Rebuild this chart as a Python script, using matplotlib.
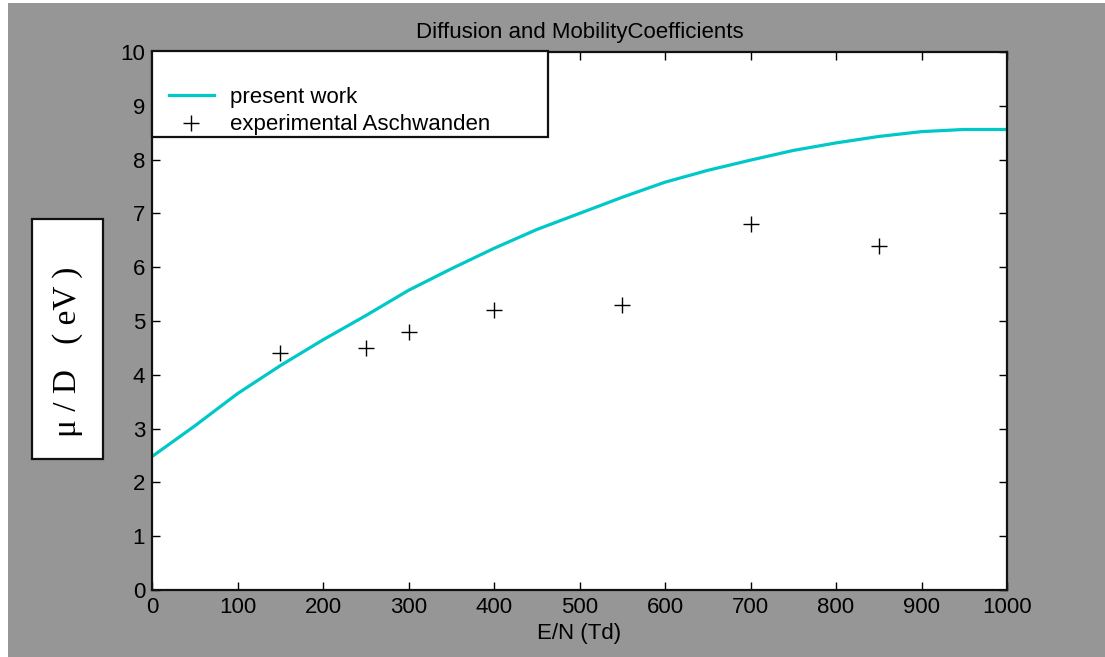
import matplotlib
matplotlib.use("Agg")
import matplotlib.pyplot as plt
from matplotlib.patches import Rectangle
import numpy as np

# present work curve
en_model = [0, 50, 100, 150, 200, 250, 300, 350, 400, 450, 500,
            550, 600, 650, 700, 750, 800, 850, 900, 950, 1000]
mu_d_model = [2.48, 3.05, 3.65, 4.17, 4.65, 5.10, 5.57, 5.97, 6.35, 6.70, 7.00,
              7.30, 7.58, 7.80, 7.99, 8.17, 8.31, 8.43, 8.52, 8.56, 8.56]

# experimental Aschwanden
en_exp = [150, 250, 300, 400, 550, 700, 850]
mu_d_exp = [4.4, 4.5, 4.8, 5.2, 5.3, 6.8, 6.4]

W, H = 1105, 657
grey = "#969696"
cyan = "#00c8c8"

plt.rcParams["font.family"] = ["Liberation Sans", "DejaVu Sans"]

fig = plt.figure(figsize=(W / 100, H / 100), dpi=100, facecolor="white")
fig.patches.append(Rectangle((8 / W, 0), 1 - 8 / W, 1 - 3 / H,
                             transform=fig.transFigure, facecolor=grey,
                             edgecolor="none", zorder=-10))

ax = fig.add_axes([152 / W, 1 - 590 / H, (1007 - 152) / W, (590 - 52) / H])
ax.set_facecolor("white")

ax.plot(en_model, mu_d_model, color=cyan, lw=2.3, label="present work")
ax.plot(en_exp, mu_d_exp, ls="none", marker="+", ms=11.5, mew=1.0,
        color="black", label="experimental Aschwanden")

ax.set_xlim(0, 1000)
ax.set_ylim(0, 10)
ax.set_xticks(np.arange(0, 1001, 100))
ax.set_yticks(np.arange(0, 11, 1))
ax.tick_params(direction="in", length=6, width=1, top=True, right=True,
               labelsize=16, pad=5, colors="black")
for s in ax.spines.values():
    s.set_linewidth(1.6)
    s.set_color("#111111")

ax.set_title("Diffusion and MobilityCoefficients", fontsize=16, pad=10)
ax.set_xlabel("E/N (Td)", fontsize=16, labelpad=4)

# legend with its own frame
ax.add_patch(Rectangle((0, (590 - 137) / 538), (548 - 152) / 855, (137 - 52) / 538 + 0.001,
                       transform=ax.transAxes, facecolor="white",
                       edgecolor="#111111", lw=1.6, zorder=5, clip_on=False))
leg = ax.legend(loc="center left", bbox_to_anchor=((158 - 152) / 855, (590 - 111) / 538),
                frameon=False, fontsize=16, borderpad=0, handlelength=2.0,
                handletextpad=0.75, labelspacing=0.3)
leg.set_zorder(6)

# y label in a white box
fig.patches.append(Rectangle((32 / W, 1 - 459 / H), 71 / W, 240 / H,
                             transform=fig.transFigure, facecolor="white",
                             edgecolor="#111111", lw=1.6, zorder=1))
fig.text(67.5 / W, 1 - 352 / H, "\u03bc / D   ( eV )", rotation=90,
         ha="center", va="center", fontsize=24, family="Liberation Serif", zorder=2)

fig.savefig("out.png", dpi=100, facecolor="white")
